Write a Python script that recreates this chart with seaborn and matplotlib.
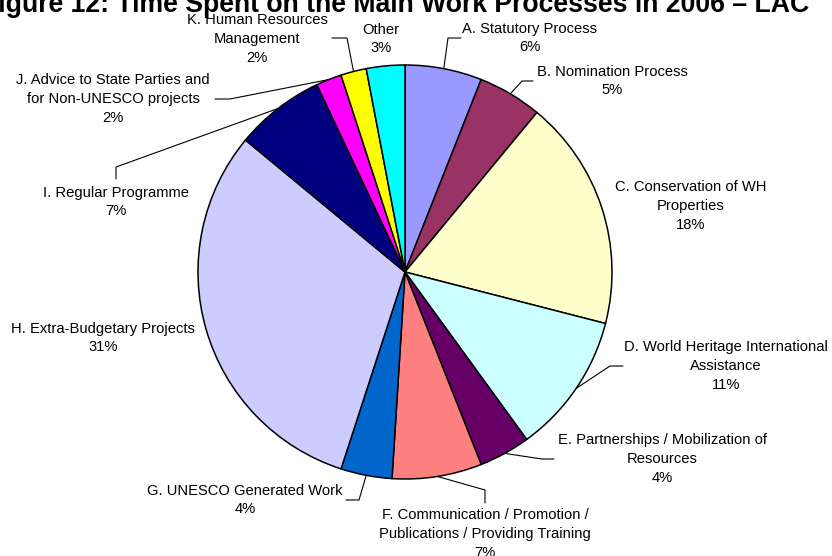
import numpy as np
import seaborn as sns
import matplotlib.pyplot as plt

# data
processes = ["A. Statutory Process", "B. Nomination Process", "C. Conservation of WH\nProperties",
             "D. World Heritage International\nAssistance", "E. Partnerships / Mobilization of\nResources",
             "F. Communication / Promotion /\nPublications / Providing Training", "G. UNESCO Generated Work",
             "H. Extra-Budgetary Projects", "I. Regular Programme",
             "J. Advice to State Parties and\nfor Non-UNESCO projects", "K. Human Resources\nManagement", "Other"]
share = [6, 5, 18, 11, 4, 7, 4, 31, 7, 2, 2, 3]
colors = ["#9999FF", "#993366", "#FFFFCC", "#CCFFFF", "#660066", "#FF8080",
          "#0066CC", "#CCCCFF", "#000080", "#FF00FF", "#FFFF00", "#00FFFF"]
title = "Figure 12: Time Spent on the Main Work Processes in 2006 \u2013 LAC"

# layout in pixels (x from left, y from top)
W, H = 832, 556
center_px = (405, 272)
radius_px = 207
label_pos = [(530, 38), (612, 81), (691, 206), (726, 366), (662, 459), (485, 534),
             (245, 500), (103, 338), (116, 202), (113, 99), (257, 39), (381, 39)]
# elbow points of the leader lines (None = no leader)
leaders = [[(448, 38), (461, 38)], [(522, 81), (533, 81)], None,
           [(610, 366), (623, 366)], [(542, 459), (554, 459)], [(485, 490), (485, 503)],
           [(359, 500), (346, 500)], None, [(116, 167), (116, 179)],
           [(230, 99), (215, 99)], [(347, 38), (332, 38)], None]

sns.set_theme(style="white")
plt.rcParams['font.family'] = ['Liberation Sans', 'DejaVu Sans']

fig = plt.figure(figsize=(W / 100, H / 100), dpi=100)
ax = fig.add_axes([0, 0, 1, 1])

cx, cy = center_px[0], H - center_px[1]
wedges, _ = ax.pie(share, colors=colors, startangle=90, counterclock=False,
                   center=(cx, cy), radius=radius_px, frame=True,
                   wedgeprops=dict(edgecolor="black", linewidth=1.1))
ax.set_xlim(0, W)
ax.set_ylim(0, H)
ax.axis("off")

for w, name, val, pos, lead in zip(wedges, processes, share, label_pos, leaders):
    ax.text(pos[0], H - pos[1], f"{name}\n{val}%", ha="center", va="center",
            multialignment="center", fontsize=10.6, linespacing=1.45, color="black")
    if lead is not None:
        mid = np.deg2rad((w.theta1 + w.theta2) / 2)
        xs = [cx + radius_px * np.cos(mid)] + [p[0] for p in lead]
        ys = [cy + radius_px * np.sin(mid)] + [H - p[1] for p in lead]
        ax.plot(xs, ys, color="black", linewidth=0.8)

# title is wider than the figure in the original, so it is clipped at both sides
ax.text(396, H - 12, title, ha="center", va="baseline", fontsize=19.2,
        fontweight="bold", color="black")

fig.savefig("out.png", dpi=100)
